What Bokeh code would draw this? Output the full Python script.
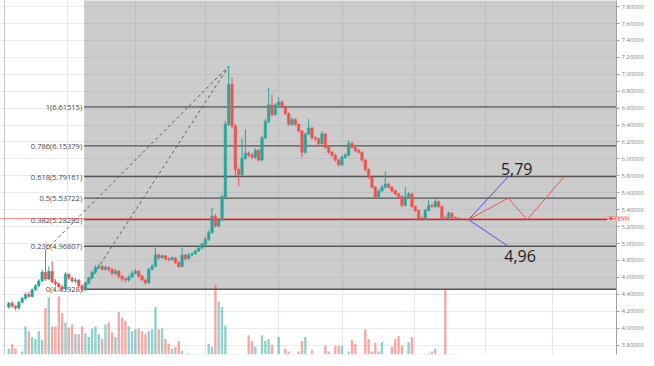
from bokeh.plotting import figure
from bokeh.models import (ColumnDataSource, FixedTicker, PrintfTickFormatter,
                          Range1d, Span, Label)
from bokeh.embed import file_html
from bokeh.resources import INLINE
from bokeh.core.properties import value

# ---------------- data ----------------
first_open = 4.249
closes = [4.295, 4.261, 4.238, 4.306, 4.352, 4.398, 4.375, 4.455, 4.501, 4.558,
          4.661, 4.581, 4.672, 4.546, 4.524, 4.489, 4.466, 4.638, 4.592, 4.558,
          4.569, 4.501, 4.455, 4.535, 4.592, 4.661, 4.718, 4.729, 4.695, 4.718,
          4.695, 4.649, 4.672, 4.615, 4.581, 4.569, 4.604, 4.649, 4.672, 4.615,
          4.569, 4.535, 4.695, 4.729, 4.866, 4.832, 4.855, 4.821, 4.809, 4.832,
          4.775, 4.729, 4.866, 4.821, 4.866, 4.878, 4.912, 4.946, 4.992, 5.049,
          5.129, 5.324, 5.209, 5.278, 5.552, 6.409, 6.878, 6.387, 5.872, 5.815,
          6.009, 6.067, 6.044, 6.021, 6.101, 5.986, 6.249, 6.444, 6.638, 6.524,
          6.638, 6.672, 6.615, 6.535, 6.409, 6.466, 6.409, 6.329, 6.078, 6.295,
          6.364, 6.249, 6.238, 6.181, 6.295, 6.135, 6.078, 6.044, 5.986, 5.929,
          6.021, 6.044, 6.181, 6.135, 6.101, 6.078, 5.986, 5.872, 5.781, 5.666,
          5.552, 5.621, 5.666, 5.701, 5.666, 5.621, 5.586, 5.552, 5.449, 5.552,
          5.586, 5.438, 5.392, 5.301, 5.289, 5.392, 5.449, 5.438, 5.495, 5.438,
          5.301, 5.295, 5.358, 5.310, 5.300, 5.294]
highs = [4.31, 4.32, 4.27, 4.32, 4.37, 4.42, 4.43, 4.47, 4.52, 4.58,
         4.69, 4.92, 4.73, 4.79, 4.58, 4.54, 4.51, 4.66, 4.65, 4.61,
         4.59, 4.58, 4.52, 4.55, 4.61, 4.68, 4.74, 4.76, 4.75, 4.74,
         4.73, 4.71, 4.70, 4.69, 4.63, 4.60, 4.63, 4.68, 4.70, 4.69,
         4.63, 4.58, 4.71, 4.76, 4.95, 4.88, 4.87, 4.87, 4.84, 4.85,
         4.84, 4.79, 4.95, 4.88, 4.89, 4.90, 4.93, 4.97, 5.01, 5.08,
         5.16, 5.42, 5.35, 5.30, 5.58, 6.45, 7.095, 6.96, 6.42, 5.90,
         6.24, 6.35, 6.09, 6.07, 6.13, 6.12, 6.27, 6.47, 6.84, 6.76,
         6.66, 6.73, 6.69, 6.63, 6.55, 6.49, 6.48, 6.42, 6.34, 6.31,
         6.47, 6.38, 6.27, 6.25, 6.33, 6.31, 6.15, 6.10, 6.06, 6.00,
         6.04, 6.07, 6.22, 6.20, 6.15, 6.12, 6.09, 6.00, 5.89, 5.79,
         5.68, 5.64, 5.69, 5.85, 5.72, 5.68, 5.64, 5.60, 5.57, 5.67,
         5.61, 5.60, 5.45, 5.40, 5.32, 5.41, 5.51, 5.47, 5.53, 5.51,
         5.45, 5.33, 5.38, 5.37, 5.32, 5.31]
lows = [4.23, 4.24, 4.21, 4.22, 4.29, 4.34, 4.36, 4.36, 4.44, 4.49,
        4.55, 4.56, 4.57, 4.53, 4.50, 4.47, 4.44, 4.45, 4.57, 4.54,
        4.53, 4.48, 4.43, 4.44, 4.52, 4.58, 4.65, 4.70, 4.68, 4.68,
        4.67, 4.62, 4.63, 4.59, 4.55, 4.54, 4.55, 4.59, 4.64, 4.60,
        4.55, 4.51, 4.52, 4.68, 4.72, 4.81, 4.82, 4.80, 4.79, 4.80,
        4.76, 4.71, 4.72, 4.80, 4.81, 4.85, 4.87, 4.90, 4.93, 4.98,
        5.03, 5.12, 5.19, 5.19, 5.26, 5.54, 6.39, 6.36, 5.80, 5.68,
        5.80, 5.99, 6.02, 6.00, 6.00, 5.97, 5.97, 6.23, 6.42, 6.50,
        6.51, 6.62, 6.60, 6.52, 6.39, 6.39, 6.39, 6.31, 6.02, 6.06,
        6.28, 6.23, 6.21, 6.16, 6.17, 6.12, 6.06, 6.02, 5.97, 5.91,
        5.92, 6.00, 6.03, 6.12, 6.08, 6.06, 5.97, 5.85, 5.76, 5.65,
        5.53, 5.54, 5.61, 5.65, 5.65, 5.60, 5.57, 5.53, 5.43, 5.44,
        5.54, 5.42, 5.37, 5.28, 5.27, 5.28, 5.38, 5.42, 5.42, 5.42,
        5.28, 5.28, 5.28, 5.29, 5.28, 5.28]
volumes = [120, 170, 120, 30, 90, 350, 300, 240, 220, 300,
           210, 540, 650, 350, 350, 660, 490, 390, 340, 370,
           270, 270, 350, 280, 240, 330, 350, 270, 220, 370,
           390, 290, 240, 500, 440, 410, 350, 300, 320, 330,
           300, 270, 300, 320, 550, 320, 330, 220, 170, 120,
           140, 200, 100, 30, 70, 30, 30, 30, 30, 30,
           170, 140, 780, 610, 550, 360, 30, 30, 30, 30,
           30, 30, 260, 200, 140, 30, 260, 200, 220, 160,
           30, 240, 30, 120, 90, 30, 30, 90, 200, 240,
           30, 110, 30, 30, 30, 150, 90, 30, 150, 150,
           150, 30, 90, 210, 170, 30, 30, 320, 220, 90,
           180, 90, 190, 30, 30, 140, 220, 250, 150, 30,
           190, 240, 30, 30, 30, 30, 70, 90, 120, 30,
           30, 740, 30, 30, 30, 30]

fib_ratios = ["1", "0.786", "0.618", "0.5", "0.382", "0.236", "0"]
fib_values = [6.61515, 6.15379, 5.79161, 5.53722, 5.28282, 4.96807, 4.45928]
price_ticks = [3.8, 4.0, 4.2, 4.4, 4.6, 4.8, 5.0, 5.2, 5.4, 5.6, 5.8,
               6.0, 6.2, 6.4, 6.6, 6.8, 7.0, 7.2, 7.4, 7.6, 7.8]
month_lines = [17.6, 38.0, 59.0, 81.0, 100.1, 121.7, 143.0, 163.2]
target_up = "5,79"
target_down = "4,96"

# ---------------- layout constants ----------------
X_START, X_END = -2.5, 182.4
Y_START, Y_END = 3.689, 7.872
FIB_X0 = 22.6          # left anchor of the fib tool (candle index)
DASH_FROM = 11         # candle whose high starts the first dashed trend line
PEAK = 66              # candle with the top wick
PROJ_X0, PROJ_X1, PROJ_X2, PROJ_X3 = 138.0, 149.9, 155.6, 166.7
TAG_X = 606            # screen x (from the frame's left) of the last-price tag

GREEN = "#26a69a"
RED = "#ef5350"

n = len(closes)
idx = list(range(n))
opens = [first_open] + closes[:-1]
colors = [GREEN if c >= o else RED for o, c in zip(opens, closes)]
src = ColumnDataSource(dict(
    x=idx, open=opens, close=closes, high=highs, low=lows,
    top=[max(o, c) for o, c in zip(opens, closes)],
    bottom=[min(o, c) for o, c in zip(opens, closes)],
    color=colors, vol=volumes))

p = figure(width=646, height=358,
           x_range=Range1d(X_START, X_END), y_range=Range1d(Y_START, Y_END),
           x_axis_location=None, y_axis_location="right",
           output_backend="svg", toolbar_location=None,
           min_border=0, outline_line_color=None,
           background_fill_color="white", border_fill_color="white")

# grid
p.ygrid.ticker = FixedTicker(ticks=price_ticks)
p.ygrid.grid_line_color = "#e8ecf2"
p.xgrid.ticker = FixedTicker(ticks=month_lines)
p.xgrid.grid_line_color = "#e3e8f0"

# right price axis
yax = p.yaxis[0]
yax.ticker = FixedTicker(ticks=price_ticks)
yax.formatter = PrintfTickFormatter(format="%.5f")
yax.major_label_text_font_size = "6px"
yax.major_label_text_color = "#808080"
yax.major_label_text_font = "Open Sans"
yax.axis_line_color = "#a0a0a0"
yax.major_tick_line_color = "#a0a0a0"
yax.major_tick_in = 0
yax.major_tick_out = 3
yax.minor_tick_line_color = None
yax.major_label_standoff = 2

# volume (own hidden scale)
p.extra_y_ranges = {"vol": Range1d(60, 3720)}
p.vbar(x="x", width=0.72, top="vol", bottom=0, source=src, y_range_name="vol",
       fill_color="color", line_color=None, fill_alpha=0.5)

# left pane border
p.add_layout(Span(location=X_START + 1.2, dimension="height",
                  line_color="#c4c7cc", line_width=1))

# fib background
p.quad(left=FIB_X0, right=X_END + 5, bottom=fib_values[-1], top=Y_END + 1,
       fill_color="#7f7f7f", fill_alpha=0.4, line_color=None)

# fib levels
p.segment(x0=[FIB_X0] * len(fib_values), x1=[X_END + 5] * len(fib_values),
          y0=fib_values, y1=fib_values, line_color="#555555", line_width=1.4)
fib_text = [f"{r}({v:.5f})" for r, v in zip(fib_ratios, fib_values)]
p.text(x=[FIB_X0 - 0.6] * len(fib_values), y=fib_values, text=fib_text,
       text_align="right", text_baseline="middle", text_font_size="7.5px",
       text_color="#454545", text_font=value("Open Sans"))

# dashed trend lines
p.line([DASH_FROM, PEAK], [highs[DASH_FROM], highs[PEAK]],
       line_color="#5a5a5a", line_dash="3 3", line_width=1)
p.line([FIB_X0, PEAK], [fib_values[-1], highs[PEAK]],
       line_color="#5a5a5a", line_dash="3 3", line_width=1)

# last price line
p.add_layout(Span(location=closes[-1], dimension="width",
                  line_color=RED, line_width=1, line_alpha=0.75))

# candles
p.segment(x0="x", y0="low", x1="x", y1="high", source=src,
          line_color="color", line_width=1)
p.vbar(x="x", width=0.72, top="top", bottom="bottom", source=src,
       fill_color="color", line_color="color", line_width=0.6)

# projections
up_level, mid_level, base_level, down_level = fib_values[2], fib_values[3], fib_values[4], fib_values[5]
p.line([PROJ_X0, PROJ_X1], [base_level, up_level], line_color="#5050d8", line_width=1)
p.line([PROJ_X0, PROJ_X1], [base_level, down_level], line_color="#5050d8", line_width=1)
p.line([PROJ_X0, PROJ_X1, PROJ_X2, PROJ_X3],
       [base_level, mid_level, base_level, up_level],
       line_color="#e05a5a", line_width=1)

p.text(x=[PROJ_X1 - 2.2], y=[up_level + 0.015], text=[target_up],
       text_align="left", text_baseline="bottom", text_font_size="16px",
       text_color="#222222", text_font=value("Open Sans"))
p.text(x=[PROJ_X1 - 1.2], y=[down_level - 0.05], text=[target_down],
       text_align="left", text_baseline="top", text_font_size="16px",
       text_color="#222222", text_font=value("Open Sans"))

# current price tag on the axis (lives in the bottom side panel, drawn at the price)
p.add_layout(Label(x=TAG_X, x_units="screen", y=closes[-1], text=f"{closes[-1]:.5f}",
                   text_font_size="6px", text_color="white", text_font_style="bold",
                   text_baseline="middle", text_align="left",
                   background_fill_color=RED, background_fill_alpha=1.0,
                   text_font="Open Sans"), "below")

open("out.html", "w").write(file_html(p, INLINE))
